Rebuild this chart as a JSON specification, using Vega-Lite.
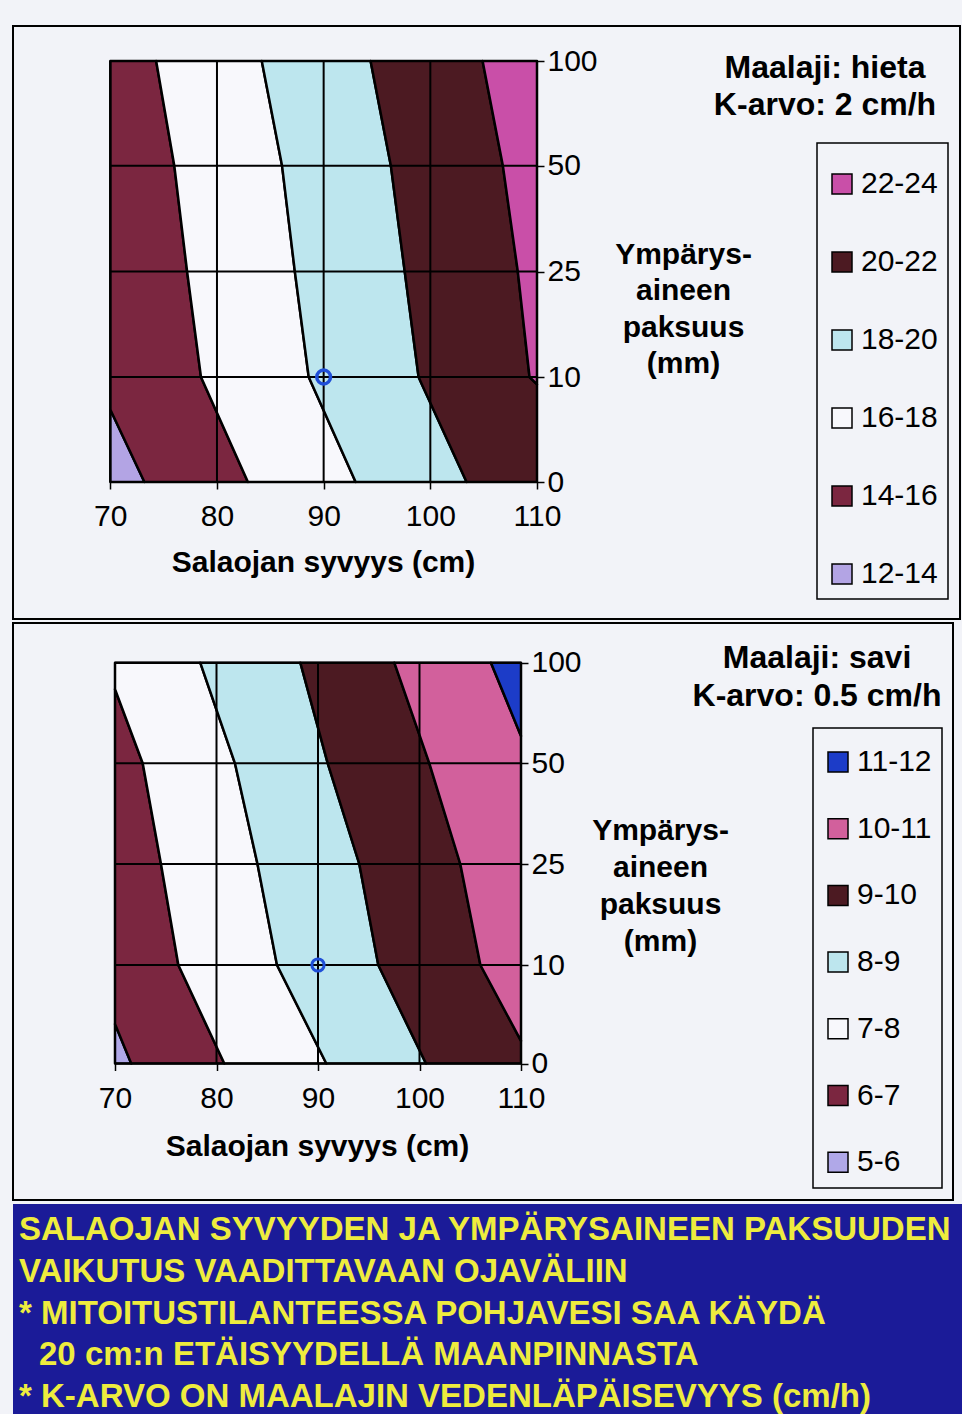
{
  "$schema": "https://vega.github.io/schema/vega-lite/v6.json",
  "background": "#f2f3f8",
  "padding": {"left": 12, "top": 25, "right": 0, "bottom": 0},
  "bounds": "flush",
  "spacing": 4,
  "config": {"legend": {"strokeWidth": 1.5}},
  "resolve": {
    "scale": {"color": "independent", "x": "independent", "y": "independent"},
    "legend": {"color": "independent"},
    "axis": {"x": "independent", "y": "independent"}
  },
  "datasets": {
    "tb": [
      {"band": "12-14", "y": 0, "x0": 70, "x1": 73.2},
      {"band": "12-14", "y": 6.9, "x0": 70, "x1": 70},
      {"band": "14-16", "y": 0, "x0": 73.2, "x1": 82.9},
      {"band": "14-16", "y": 6.9, "x0": 70, "x1": 79.86},
      {"band": "14-16", "y": 10, "x0": 70, "x1": 78.5},
      {"band": "14-16", "y": 25, "x0": 70, "x1": 77.2},
      {"band": "14-16", "y": 50, "x0": 70, "x1": 76.0},
      {"band": "14-16", "y": 100, "x0": 70, "x1": 74.3},
      {"band": "16-18", "y": 0, "x0": 82.9, "x1": 93.0},
      {"band": "16-18", "y": 10, "x0": 78.5, "x1": 88.6},
      {"band": "16-18", "y": 25, "x0": 77.2, "x1": 87.3},
      {"band": "16-18", "y": 50, "x0": 76.0, "x1": 86.1},
      {"band": "16-18", "y": 100, "x0": 74.3, "x1": 84.2},
      {"band": "18-20", "y": 0, "x0": 93.0, "x1": 103.4},
      {"band": "18-20", "y": 10, "x0": 88.6, "x1": 98.9},
      {"band": "18-20", "y": 25, "x0": 87.3, "x1": 97.6},
      {"band": "18-20", "y": 50, "x0": 86.1, "x1": 96.3},
      {"band": "18-20", "y": 100, "x0": 84.2, "x1": 94.4},
      {"band": "20-22", "y": 0, "x0": 103.4, "x1": 110},
      {"band": "20-22", "y": 9.3, "x0": 99.2, "x1": 110},
      {"band": "20-22", "y": 10, "x0": 98.9, "x1": 109.3},
      {"band": "20-22", "y": 25, "x0": 97.6, "x1": 108.2},
      {"band": "20-22", "y": 50, "x0": 96.3, "x1": 106.8},
      {"band": "20-22", "y": 100, "x0": 94.4, "x1": 104.9},
      {"band": "22-24", "y": 9.3, "x0": 110, "x1": 110},
      {"band": "22-24", "y": 10, "x0": 109.3, "x1": 110},
      {"band": "22-24", "y": 25, "x0": 108.2, "x1": 110},
      {"band": "22-24", "y": 50, "x0": 106.8, "x1": 110},
      {"band": "22-24", "y": 100, "x0": 104.9, "x1": 110}
    ],
    "bb": [
      {"band": "5-6", "y": 0, "x0": 70, "x1": 71.6},
      {"band": "5-6", "y": 4, "x0": 70, "x1": 70},
      {"band": "6-7", "y": 0, "x0": 71.6, "x1": 80.77},
      {"band": "6-7", "y": 4, "x0": 70, "x1": 78.96},
      {"band": "6-7", "y": 10, "x0": 70, "x1": 76.24},
      {"band": "6-7", "y": 25, "x0": 70, "x1": 74.53},
      {"band": "6-7", "y": 50, "x0": 70, "x1": 72.73},
      {"band": "6-7", "y": 86.8, "x0": 70, "x1": 70},
      {"band": "7-8", "y": 0, "x0": 80.77, "x1": 90.82},
      {"band": "7-8", "y": 10, "x0": 76.24, "x1": 85.96},
      {"band": "7-8", "y": 25, "x0": 74.53, "x1": 84.04},
      {"band": "7-8", "y": 50, "x0": 72.73, "x1": 81.82},
      {"band": "7-8", "y": 86.8, "x0": 70, "x1": 79.3},
      {"band": "7-8", "y": 100, "x0": 70, "x1": 78.4},
      {"band": "8-9", "y": 0, "x0": 90.82, "x1": 100.64},
      {"band": "8-9", "y": 10, "x0": 85.96, "x1": 95.94},
      {"band": "8-9", "y": 25, "x0": 84.04, "x1": 94.07},
      {"band": "8-9", "y": 50, "x0": 81.82, "x1": 90.96},
      {"band": "8-9", "y": 100, "x0": 78.4, "x1": 88.26},
      {"band": "9-10", "y": 0, "x0": 100.64, "x1": 110},
      {"band": "9-10", "y": 2.3, "x0": 99.56, "x1": 110},
      {"band": "9-10", "y": 10, "x0": 95.94, "x1": 106.0},
      {"band": "9-10", "y": 25, "x0": 94.07, "x1": 104.02},
      {"band": "9-10", "y": 50, "x0": 90.96, "x1": 100.97},
      {"band": "9-10", "y": 100, "x0": 88.26, "x1": 97.52},
      {"band": "10-11", "y": 2.3, "x0": 110, "x1": 110},
      {"band": "10-11", "y": 10, "x0": 106.0, "x1": 110},
      {"band": "10-11", "y": 25, "x0": 104.02, "x1": 110},
      {"band": "10-11", "y": 50, "x0": 100.97, "x1": 110},
      {"band": "10-11", "y": 63.6, "x0": 100.03, "x1": 110},
      {"band": "10-11", "y": 100, "x0": 97.52, "x1": 107.04},
      {"band": "11-12", "y": 63.6, "x0": 110, "x1": 110},
      {"band": "11-12", "y": 100, "x0": 107.04, "x1": 110}
    ],
    "xgrid": [{"x": 70}, {"x": 80}, {"x": 90}, {"x": 100}, {"x": 110}],
    "ygrid": [{"y": 0}, {"y": 10}, {"y": 25}, {"y": 50}, {"y": 100}],
    "mark": [{"x": 90, "y": 10}],
    "banner": [
      {"line": 1, "text": "SALAOJAN SYVYYDEN JA YMPÄRYSAINEEN PAKSUUDEN"},
      {"line": 2, "text": "VAIKUTUS VAADITTAVAAN OJAVÄLIIN"},
      {"line": 3, "text": "* MITOITUSTILANTEESSA POHJAVESI SAA KÄYDÄ"},
      {"line": 4, "text": "20 cm:n ETÄISYYDELLÄ MAANPINNASTA"},
      {"line": 5, "text": "* K-ARVO ON MAALAJIN VEDENLÄPÄISEVYYS (cm/h)"}
    ]
  },
  "vconcat": [
    {
      "width": 947,
      "height": 593,
      "view": {"stroke": "black", "strokeWidth": 2},
      "title": {
        "text": ["Maalaji: hieta", "K-arvo: 2 cm/h"],
        "orient": "none", "anchor": "start", "frame": "group",
        "align": "center", "baseline": "alphabetic", "offset": 0,
        "dx": 812, "dy": 52, "lineHeight": 37,
        "font": "Liberation Sans", "fontSize": 32, "fontWeight": "bold", "color": "black"
      },
      "layer": [
        {
          "data": {"name": "tb"},
          "mark": {"type": "area", "orient": "horizontal", "stroke": "black", "strokeWidth": 2.5, "strokeJoin": "round", "opacity": 1},
          "encoding": {
            "y": {
              "field": "y", "type": "quantitative",
              "scale": {"domain": [0, 10, 25, 50, 100], "range": [456, 351, 245.5, 139.7, 35], "nice": false, "zero": false},
              "axis": {
                "orient": "right", "offset": -423, "values": [0, 10, 25, 50, 100],
                "domain": false, "grid": false, "tickSize": 7, "tickWidth": 1.5, "tickColor": "black",
                "labelFont": "Liberation Sans", "labelFontSize": 30, "labelColor": "black", "labelPadding": 3,
                "labelFlush": false, "labelOverlap": false, "labelBound": false,
                "title": ["Ympärys-", "aineen", "paksuus", "(mm)"],
                "titleAngle": 0, "titleX": 146, "titleY": 237, "titleAlign": "center", "titleBaseline": "alphabetic",
                "titleFont": "Liberation Sans", "titleFontSize": 30, "titleFontWeight": "bold", "titleColor": "black", "titleLineHeight": 36.5
              }
            },
            "x": {
              "field": "x0", "type": "quantitative", "stack": null,
              "scale": {"domain": [70, 110], "range": [97.3, 524], "nice": false, "zero": false},
              "axis": {
                "orient": "bottom", "offset": -137, "values": [70, 80, 90, 100, 110],
                "domain": false, "grid": false, "tickSize": 7, "tickWidth": 1.5, "tickColor": "black",
                "labelFont": "Liberation Sans", "labelFontSize": 30, "labelColor": "black", "labelPadding": 12,
                "labelFlush": false, "labelOverlap": false, "labelBound": false,
                "title": "Salaojan syvyys (cm)",
                "titleX": 310, "titleY": 89, "titleAlign": "center", "titleBaseline": "alphabetic",
                "titleFont": "Liberation Sans", "titleFontSize": 30, "titleFontWeight": "bold", "titleColor": "black"
              }
            },
            "x2": {"field": "x1"},
            "color": {
              "field": "band", "type": "nominal",
              "scale": {
                "domain": ["22-24", "20-22", "18-20", "16-18", "14-16", "12-14"],
                "range": ["#c94fa8", "#4c1a22", "#bde6ee", "#f8f8fc", "#7b2640", "#b3a4e4"]
              },
              "legend": {
                "orient": "none", "legendX": 804, "legendY": 117,
                "title": " ", "titleFontSize": 12, "titlePadding": 4,
                "padding": 10, "strokeColor": "black",
                "symbolType": "square", "symbolSize": 400, "symbolStrokeColor": "black", "symbolStrokeWidth": 1.5,
                "labelFont": "Liberation Sans", "labelFontSize": 30, "labelColor": "black", "labelOffset": 4,
                "rowPadding": 48, "labelBaseline": "middle",
                "encode": {
                  "symbols": {
                    "shape": {"value": {"expr": "datum.value === '18-20' ? 'M-1,-1H1V1H-1Z M-1,-1L1,1 M1,-1L-1,1' : 'square'"}},
                    "stroke": {"value": {"expr": "datum.value === '18-20' ? '#2848c8' : 'black'"}}
                  }
                }
              }
            }
          }
        },
        {
          "data": {"name": "xgrid"},
          "mark": {"type": "rule", "color": "black", "strokeWidth": 2},
          "encoding": {
            "x": {"field": "x", "type": "quantitative"},
            "y": {"datum": 0},
            "y2": {"datum": 100}
          }
        },
        {
          "data": {"name": "ygrid"},
          "mark": {"type": "rule", "color": "black", "strokeWidth": 2},
          "encoding": {
            "y": {"field": "y", "type": "quantitative"},
            "x": {"datum": 70},
            "x2": {"datum": 110}
          }
        },
        {
          "data": {"name": "mark"},
          "mark": {"type": "point", "shape": "circle", "filled": false, "color": "#1f4fd8", "size": 190, "strokeWidth": 3.5, "opacity": 1},
          "encoding": {
            "x": {"field": "x", "type": "quantitative"},
            "y": {"field": "y", "type": "quantitative"}
          }
        }
      ]
    },
    {
      "width": 940,
      "height": 577,
      "view": {"stroke": "black", "strokeWidth": 2},
      "title": {
        "text": ["Maalaji: savi", "K-arvo: 0.5 cm/h"],
        "orient": "none", "anchor": "start", "frame": "group",
        "align": "center", "baseline": "alphabetic", "offset": 0,
        "dx": 804, "dy": 45, "lineHeight": 38,
        "font": "Liberation Sans", "fontSize": 32, "fontWeight": "bold", "color": "black"
      },
      "layer": [
        {
          "data": {"name": "bb"},
          "mark": {"type": "area", "orient": "horizontal", "stroke": "black", "strokeWidth": 2.5, "strokeJoin": "round", "opacity": 1},
          "encoding": {
            "y": {
              "field": "y", "type": "quantitative",
              "scale": {"domain": [0, 10, 25, 50, 100], "range": [440.5, 342, 241, 140.3, 39.7], "nice": false, "zero": false},
              "axis": {
                "orient": "right", "offset": -432, "values": [0, 10, 25, 50, 100],
                "domain": false, "grid": false, "tickSize": 7, "tickWidth": 1.5, "tickColor": "black",
                "labelFont": "Liberation Sans", "labelFontSize": 30, "labelColor": "black", "labelPadding": 3,
                "labelFlush": false, "labelOverlap": false, "labelBound": false,
                "title": ["Ympärys-", "aineen", "paksuus", "(mm)"],
                "titleAngle": 0, "titleX": 139, "titleY": 216, "titleAlign": "center", "titleBaseline": "alphabetic",
                "titleFont": "Liberation Sans", "titleFontSize": 30, "titleFontWeight": "bold", "titleColor": "black", "titleLineHeight": 37
              }
            },
            "x": {
              "field": "x0", "type": "quantitative", "stack": null,
              "scale": {"domain": [70, 110], "range": [102, 508], "nice": false, "zero": false},
              "axis": {
                "orient": "bottom", "offset": -136.5, "values": [70, 80, 90, 100, 110],
                "domain": false, "grid": false, "tickSize": 7, "tickWidth": 1.5, "tickColor": "black",
                "labelFont": "Liberation Sans", "labelFontSize": 30, "labelColor": "black", "labelPadding": 13,
                "labelFlush": false, "labelOverlap": false, "labelBound": false,
                "title": "Salaojan syvyys (cm)",
                "titleX": 304, "titleY": 91.5, "titleAlign": "center", "titleBaseline": "alphabetic",
                "titleFont": "Liberation Sans", "titleFontSize": 30, "titleFontWeight": "bold", "titleColor": "black"
              }
            },
            "x2": {"field": "x1"},
            "color": {
              "field": "band", "type": "nominal",
              "scale": {
                "domain": ["11-12", "10-11", "9-10", "8-9", "7-8", "6-7", "5-6"],
                "range": ["#1c3cc8", "#d2609c", "#4c1a22", "#bde6ee", "#f8f8fc", "#7b2640", "#b0a8e8"]
              },
              "legend": {
                "orient": "none", "legendX": 800, "legendY": 105,
                "title": " ", "titleFontSize": 6, "titlePadding": 3,
                "padding": 10, "strokeColor": "black",
                "symbolType": "square", "symbolSize": 400, "symbolStrokeColor": "black", "symbolStrokeWidth": 1.5,
                "labelFont": "Liberation Sans", "labelFontSize": 30, "labelColor": "black", "labelOffset": 4,
                "rowPadding": 36.7, "labelBaseline": "middle",
                "encode": {
                  "symbols": {
                    "shape": {"value": {"expr": "datum.value === '8-9' ? 'M-1,-1H1V1H-1Z M-1,-1L1,1 M1,-1L-1,1' : 'square'"}},
                    "stroke": {"value": {"expr": "datum.value === '8-9' ? '#2848c8' : 'black'"}}
                  }
                }
              }
            }
          }
        },
        {
          "data": {"name": "xgrid"},
          "mark": {"type": "rule", "color": "black", "strokeWidth": 2},
          "encoding": {
            "x": {"field": "x", "type": "quantitative"},
            "y": {"datum": 0},
            "y2": {"datum": 100}
          }
        },
        {
          "data": {"name": "ygrid"},
          "mark": {"type": "rule", "color": "black", "strokeWidth": 2},
          "encoding": {
            "y": {"field": "y", "type": "quantitative"},
            "x": {"datum": 70},
            "x2": {"datum": 110}
          }
        },
        {
          "data": {"name": "mark"},
          "mark": {"type": "point", "shape": "circle", "filled": false, "color": "#1f4fd8", "size": 150, "strokeWidth": 3, "opacity": 1},
          "encoding": {
            "x": {"field": "x", "type": "quantitative"},
            "y": {"field": "y", "type": "quantitative"}
          }
        }
      ]
    },
    {
      "width": 950,
      "height": 211,
      "view": {"fill": "#1b1b98", "stroke": null},
      "data": {"name": "banner"},
      "layer": [
        {
          "transform": [{"filter": "datum.line != 4"}],
          "mark": {"type": "text", "align": "left", "baseline": "alphabetic", "font": "Liberation Sans", "fontWeight": "bold", "fontSize": 33, "color": "#eeec3e", "clip": true},
          "encoding": {
            "y": {"field": "line", "type": "quantitative", "scale": {"domain": [0, 5], "range": [-5.75, 203], "nice": false, "zero": false}, "axis": null},
            "x": {"datum": 0, "type": "quantitative", "scale": {"domain": [0, 1], "range": [6, 950], "nice": false, "zero": false}, "axis": null},
            "text": {"field": "text"}
          }
        },
        {
          "transform": [{"filter": "datum.line == 4"}],
          "mark": {"type": "text", "align": "left", "baseline": "alphabetic", "font": "Liberation Sans", "fontWeight": "bold", "fontSize": 33, "color": "#eeec3e", "clip": true},
          "encoding": {
            "y": {"field": "line", "type": "quantitative"},
            "x": {"datum": 0.0212, "type": "quantitative"},
            "text": {"field": "text"}
          }
        }
      ]
    }
  ]
}
